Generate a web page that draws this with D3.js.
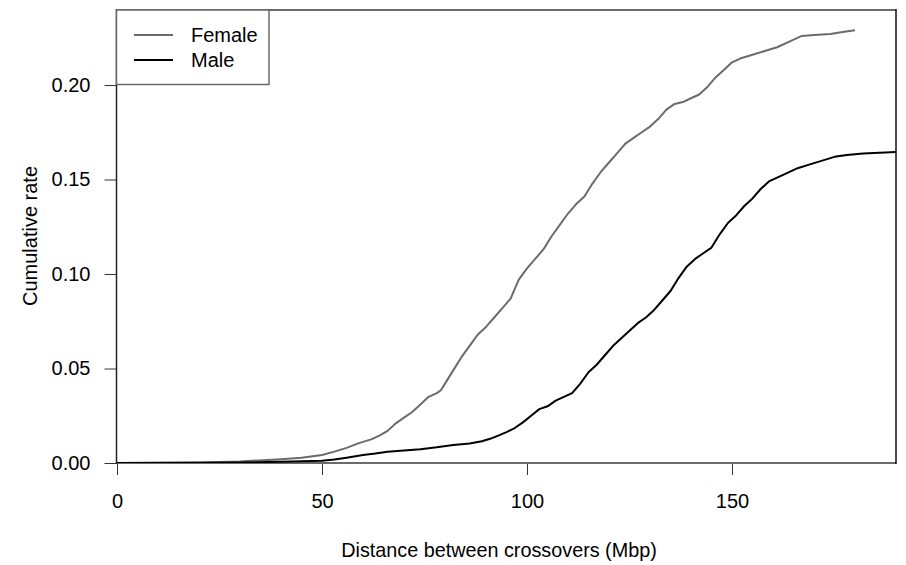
<!DOCTYPE html>
<html>
<head>
<meta charset="utf-8">
<script src="https://cdn.jsdelivr.net/npm/d3@7"></script>
<style>
  body { margin: 0; background: #fff; }
  svg text { font-family: "Liberation Sans", Arial, sans-serif; font-size: 20px; fill: #000; }
</style>
</head>
<body>
<svg id="chart" width="906" height="565"></svg>
<script>
// values (distance in Mbp, cumulative rate)
let femaleDist = [0, 20, 30, 40, 45, 50, 53, 56, 59, 62, 64, 66, 68, 70, 72, 74, 76, 78, 79, 80,
    82, 84, 86, 88, 90, 92, 94, 96, 98, 100, 102, 104, 106, 108, 110, 112, 114, 116, 118, 120,
    122, 124, 126, 128, 130, 132, 134, 136, 138, 140, 142, 144, 146, 148, 150, 152, 155, 158,
    161, 164, 167, 170, 174, 177, 180];
let femaleRate = [0, 0.0003, 0.0008, 0.002, 0.0028, 0.0042, 0.006, 0.008, 0.0105, 0.0125, 0.0145,
    0.017, 0.021, 0.024, 0.027, 0.031, 0.035, 0.037, 0.0385, 0.042,
    0.049, 0.056, 0.062, 0.068, 0.072, 0.077, 0.082, 0.087, 0.097, 0.103, 0.108, 0.113, 0.120,
    0.126, 0.132, 0.137, 0.141, 0.148, 0.154, 0.159,
    0.164, 0.169, 0.172, 0.175, 0.178, 0.182, 0.187, 0.190, 0.191, 0.193, 0.195, 0.199, 0.204,
    0.208, 0.212, 0.214, 0.216, 0.218, 0.220, 0.223, 0.226, 0.2265, 0.227, 0.228, 0.229];

let maleDist = [0, 20, 30, 40, 50, 53, 56, 60, 63, 66, 70, 74, 78, 82, 86, 89, 91, 93, 95, 97,
    99, 101, 103, 105, 107, 109, 111, 113, 115, 117, 119, 121, 123, 125, 127, 129, 131, 133,
    135, 137, 139, 141, 143, 145, 147, 149, 151, 153, 155, 157, 159, 161, 163, 166, 169, 172,
    175, 178, 182, 186, 190];
let maleRate = [0, 0.0001, 0.0003, 0.0007, 0.0012, 0.0018, 0.0028, 0.0042, 0.005, 0.006, 0.0066,
    0.0073, 0.0083, 0.0095, 0.0103, 0.0115, 0.0128, 0.0145, 0.0163, 0.0185,
    0.0215, 0.025, 0.0285, 0.030, 0.033, 0.035, 0.037, 0.042, 0.048, 0.052, 0.057, 0.062, 0.066,
    0.070, 0.074, 0.077, 0.081, 0.086,
    0.091, 0.098, 0.104, 0.108, 0.111, 0.114, 0.121, 0.127, 0.131, 0.136, 0.140, 0.145, 0.149,
    0.151, 0.153, 0.156, 0.158, 0.160,
    0.162, 0.163, 0.1638, 0.1642, 0.1645];

let xTicks = [0, 50, 100, 150];
let yTicks = [0, 0.05, 0.10, 0.15, 0.20];
let seriesNames = ['Female', 'Male'];
let seriesColors = ['#6b6b6b', '#000000'];

let svg = d3.select('#chart');

let x = d3.scaleLinear().domain([0, 190]).range([117, 896]);
let y = d3.scaleLinear().domain([0, 0.2397]).range([463, 10]);

// axes
let xAxis = svg.append('g')
    .attr('transform', `translate(0,${y(0)})`)
    .call(d3.axisBottom(x).tickValues(xTicks).tickSize(12).tickPadding(19).tickFormat(d3.format('d')));
let yAxis = svg.append('g')
    .attr('transform', `translate(${x(0) - 0.5},0)`)
    .call(d3.axisLeft(y).tickValues(yTicks).tickSize(12).tickPadding(14).tickFormat(d3.format('.2f')));

[xAxis, yAxis].forEach(g => {
    g.select('.domain').remove();
    g.selectAll('.tick line').attr('stroke', '#333').attr('stroke-width', 1);
    g.selectAll('text').style('font-size', '20px').style('font-family', '"Liberation Sans", Arial, sans-serif').attr('fill', '#000');
});

// frame
let frame = svg.append('g').attr('fill', 'none');
frame.append('line').attr('x1', 116).attr('x2', 896).attr('y1', 10).attr('y2', 10)
    .attr('stroke', '#6b6b6b').attr('stroke-width', 2);
frame.append('line').attr('x1', 116).attr('x2', 896).attr('y1', 463).attr('y2', 463)
    .attr('stroke', '#6b6b6b').attr('stroke-width', 2);
frame.append('line').attr('x1', 116.5).attr('x2', 116.5).attr('y1', 9).attr('y2', 464)
    .attr('stroke', '#222').attr('stroke-width', 1.5);
frame.append('line').attr('x1', 896).attr('x2', 896).attr('y1', 9).attr('y2', 464)
    .attr('stroke', '#111').attr('stroke-width', 1.5);

// curves
let line = d3.line().x(d => x(d[0])).y(d => y(d[1]));

let series = [
    d3.zip(femaleDist, femaleRate),
    d3.zip(maleDist, maleRate)
];

svg.append('defs').append('clipPath').attr('id', 'plotclip')
    .append('rect').attr('x', 117).attr('y', 10).attr('width', 779).attr('height', 453);

svg.append('g').attr('clip-path', 'url(#plotclip)')
    .selectAll('path')
    .data(series)
    .enter()
    .append('path')
    .attr('d', line)
    .attr('fill', 'none')
    .attr('stroke', (d, i) => seriesColors[i])
    .attr('stroke-width', 2)
    .attr('stroke-linejoin', 'round');

// legend
let legend = svg.append('g');
legend.append('rect')
    .attr('x', 116.5).attr('y', 10).attr('width', 152.5).attr('height', 74.5)
    .attr('fill', '#fff').attr('stroke', '#6b6b6b').attr('stroke-width', 1.5);

legend.selectAll('.lg-line')
    .data(seriesNames)
    .enter()
    .append('line')
    .attr('x1', 134).attr('x2', 173)
    .attr('y1', (d, i) => 35 + i * 25).attr('y2', (d, i) => 35 + i * 25)
    .attr('stroke', (d, i) => seriesColors[i])
    .attr('stroke-width', 2);

legend.selectAll('.lg-text')
    .data(seriesNames)
    .enter()
    .append('text')
    .attr('x', 191)
    .attr('y', (d, i) => 42 + i * 25)
    .text(d => d);

// axis titles
svg.append('text')
    .attr('x', 499)
    .attr('y', 557)
    .attr('text-anchor', 'middle')
    .style('font-size', '19.8px')
    .text('Distance between crossovers (Mbp)');

svg.append('text')
    .attr('transform', 'translate(37,236) rotate(-90)')
    .attr('text-anchor', 'middle')
    .text('Cumulative rate');
</script>
</body>
</html>
